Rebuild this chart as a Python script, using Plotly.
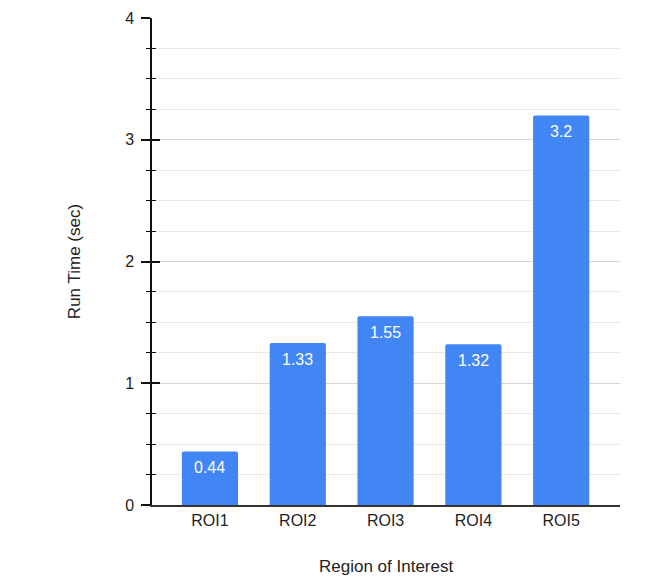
import plotly.graph_objects as go

categories = ["ROI1", "ROI2", "ROI3", "ROI4", "ROI5"]
run_times = [0.44, 1.33, 1.55, 1.32, 3.2]
y_tick_values = [0, 1, 2, 3, 4]
x_title = "Region of Interest"
y_title = "Run Time (sec)"

FONT = "Liberation Sans, Arial, sans-serif"

fig = go.Figure()
fig.add_trace(go.Bar(
    x=categories, y=run_times,
    marker=dict(color="#4285f4", cornerradius=2, line=dict(width=0)),
    showlegend=False,
))
# invisible trace so the overlay axis (inside tick halves) is drawn
fig.add_trace(go.Scatter(x=categories[:1], y=[0], yaxis="y2", mode="markers",
                         marker=dict(opacity=0), showlegend=False, hoverinfo="skip"))

# value labels inside the top of each bar
for cat, val in zip(categories, run_times):
    fig.add_annotation(x=cat, y=val, xref="x", yref="y", text=str(val),
                       showarrow=False, yanchor="middle", yshift=-16,
                       font=dict(family=FONT, size=16, color="white"))

# x axis title
fig.add_annotation(x=0.5, y=0, xref="paper", yref="paper", text=x_title,
                   showarrow=False, yanchor="middle", yshift=-61,
                   font=dict(family=FONT, size=17, color="#222222"))

# the page body has an 8px margin, so the figure is offset by it
fig.update_layout(
    width=653, height=570,
    margin=dict(l=144, r=41, t=10, b=73),
    paper_bgcolor="white", plot_bgcolor="white",
    bargap=0.36,
    font=dict(family=FONT, size=16, color="#222222"),
    xaxis=dict(
        range=[-0.66, 4.67], showgrid=False, zeroline=False, automargin=False,
        showline=True, linecolor="#333333", linewidth=1.5,
        ticks="", tickfont=dict(size=16, color="#222222"),
    ),
    yaxis=dict(
        range=[0, 4], tickvals=y_tick_values, automargin=False,
        showgrid=True, gridcolor="#d6d6d6", gridwidth=1,
        zeroline=False, showline=True, linecolor="#111111", linewidth=1.5,
        ticks="outside", ticklen=9, tickwidth=1.5, tickcolor="#111111",
        ticklabelstandoff=4,
        tickfont=dict(size=16, color="#222222"),
        minor=dict(dtick=0.25, ticks="outside", ticklen=4, tickwidth=1.2,
                   tickcolor="#111111", showgrid=True, gridcolor="#e8e8e8", gridwidth=1),
        title=dict(text=y_title, font=dict(size=17, color="#222222"), standoff=40),
    ),
    yaxis2=dict(
        overlaying="y", side="left", range=[0, 4], tickvals=y_tick_values,
        automargin=False,
        showgrid=False, zeroline=False, showline=False, showticklabels=False,
        ticks="inside", ticklen=8, tickwidth=1.5, tickcolor="#111111",
        minor=dict(dtick=0.25, ticks="inside", ticklen=4, tickwidth=1.2,
                   tickcolor="#111111", showgrid=False),
    ),
)

fig.write_html("out.html")
